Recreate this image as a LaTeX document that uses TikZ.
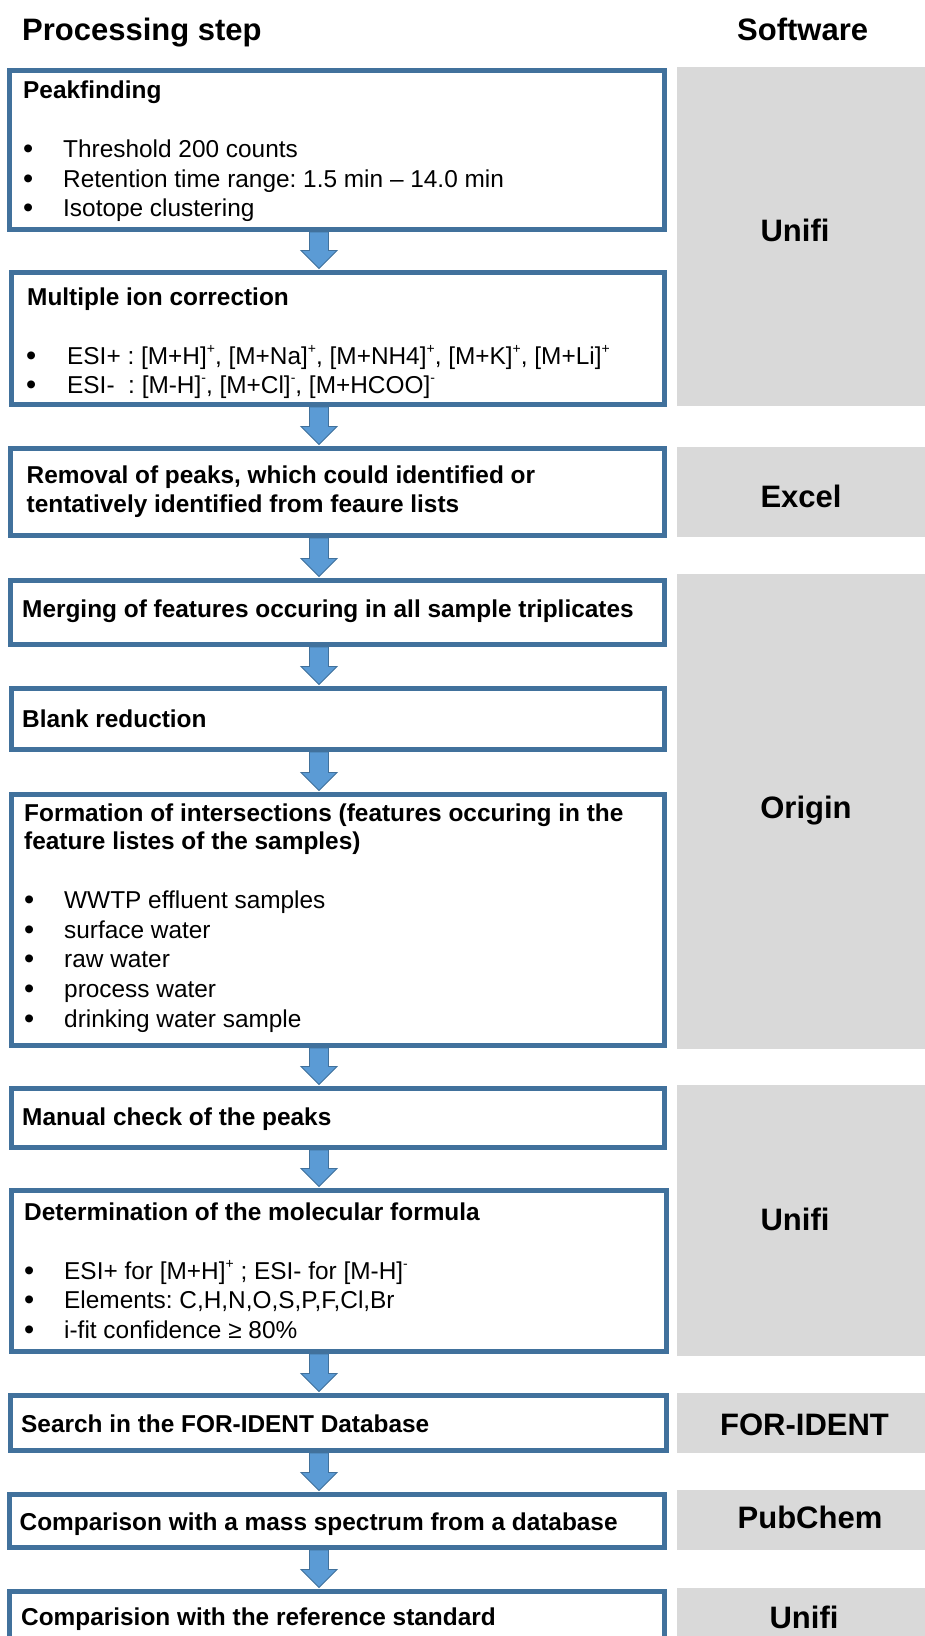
\documentclass[tikz,border=0pt]{standalone}
\usepackage{fontspec}
\setmainfont{Liberation Sans}
\usetikzlibrary{calc}
\frenchspacing
\definecolor{boxedge}{HTML}{41719C}
\definecolor{arrowfill}{HTML}{5B9BD5}
\definecolor{arrowedge}{HTML}{41719C}
\definecolor{softgray}{HTML}{D9D9D9}
\newcommand\bulglyph{\raisebox{-0.06em}{\fontsize{29}{29}\selectfont •}}
\newcommand\bul{\makebox[40pt][l]{\bulglyph}}
\newcommand\supx[1]{\raisebox{0.42em}{\fontsize{14}{14}\selectfont #1}}
\newcommand\flowarrow[2]{%
  \path[blockarrow] let \p1=(#1.south), \p2=(#2.north) in
    (309.5pt,\y1) -- (328.5pt,\y1) -- (328.5pt,{\y2+19.5pt}) -- (337pt,{\y2+19.5pt})
    -- (319pt,{\y2+1.5pt}) -- (301pt,{\y2+19.5pt}) -- (309.5pt,{\y2+19.5pt}) -- cycle;}
\tikzset{
  stepbox/.style={draw=boxedge, line width=5pt, fill=white, rectangle, inner sep=0pt},
  blockarrow/.style={draw=arrowedge, fill=arrowfill, line width=0.9pt, line join=miter},
  lbl/.style={anchor=base west, inner sep=0pt, font=\fontsize{24.4}{29.3}\selectfont},
  hd/.style={anchor=base west, inner sep=0pt, font=\fontsize{24.4}{29.3}\selectfont\bfseries},
  softlbl/.style={anchor=base, inner sep=0pt, font=\fontsize{31}{36}\selectfont\bfseries},
  coltitle/.style={anchor=base west, inner sep=0pt, font=\fontsize{31}{36}\selectfont\bfseries},
  graybox/.style={fill=softgray}
}
\begin{document}
\begin{tikzpicture}[x=1pt,y=-1pt]
\useasboundingbox (0,0) rectangle (925,1636);
\clip (0,0) rectangle (925,1636);

% column titles
\node[coltitle] (h1) at (22,40) {Processing step};
\node[coltitle] (h2) at (737,40) {Software};

% software column
\fill[graybox] (677,67) rectangle (930,406);
\fill[graybox] (677,447) rectangle (930,537);
\fill[graybox] (677,574) rectangle (930,1049);
\fill[graybox] (677,1085) rectangle (930,1356);
\fill[graybox] (677,1393) rectangle (930,1453);
\fill[graybox] (677,1490) rectangle (930,1550);
\fill[graybox] (677,1588) rectangle (930,1700);
\node[softlbl] (s1) at (795,241) {Unifi};
\node[softlbl] (s2) at (801,507) {Excel};
\node[softlbl] (s3) at (806,818) {Origin};
\node[softlbl] (s4) at (795,1230) {Unifi};
\node[softlbl] (s5) at (804.5,1435) {FOR-IDENT};
\node[softlbl] (s6) at (810,1528) {PubChem};
\node[softlbl] (s7) at (804,1628) {Unifi};

% step boxes
\node[stepbox, minimum width=655pt, minimum height=159pt] (b1) at (337,150) {};
\node[stepbox, minimum width=653pt, minimum height=132pt] (b2) at (338,338.5) {};
\node[stepbox, minimum width=654pt, minimum height=87pt] (b3) at (337.5,492) {};
\node[stepbox, minimum width=654pt, minimum height=64pt] (b4) at (337.5,612.5) {};
\node[stepbox, minimum width=653pt, minimum height=61pt] (b5) at (338,719) {};
\node[stepbox, minimum width=653pt, minimum height=251pt] (b6) at (338,920) {};
\node[stepbox, minimum width=653pt, minimum height=59pt] (b7) at (338,1118) {};
\node[stepbox, minimum width=655pt, minimum height=161pt] (b8) at (339,1271) {};
\node[stepbox, minimum width=656pt, minimum height=55pt] (b9) at (338.5,1423) {};
\node[stepbox, minimum width=655pt, minimum height=53pt] (b10) at (337,1521) {};
\node[stepbox, minimum width=655pt, minimum height=106pt] (b11) at (337,1644.5) {};

% arrows
\flowarrow{b1}{b2}
\flowarrow{b2}{b3}
\flowarrow{b3}{b4}
\flowarrow{b4}{b5}
\flowarrow{b5}{b6}
\flowarrow{b6}{b7}
\flowarrow{b7}{b8}
\flowarrow{b8}{b9}
\flowarrow{b9}{b10}
\flowarrow{b10}{b11}

% box 1
\node[hd] (t1) at (23,98) {Peakfinding};
\node[lbl] (t1a) at (23,157) {\bul Threshold 200 counts};
\node[lbl] (t1b) at (23,187) {\bul Retention time range: 1.5 min – 14.0 min};
\node[lbl] (t1c) at (23,216) {\bul Isotope clustering};
% box 2
\node[hd] (t2) at (27,305) {Multiple ion correction};
\node[lbl] (t2a) at (26,364) {\makebox[41pt][l]{\bulglyph}ESI+ : [M+H]\supx{+}, [M+Na]\supx{+}, [M+NH4]\supx{+}, [M+K]\supx{+}, [M+Li]\supx{+}};
\node[lbl] (t2b) at (26,393) {\makebox[41pt][l]{\bulglyph}ESI-~~: [M-H]\supx{-}, [M+Cl]\supx{-}, [M+HCOO]\supx{-}};
% box 3
\node[hd] (t3) at (26.5,483) {Removal of peaks, which could identified or};
\node[hd] (t3b) at (26.5,512) {tentatively identified from feaure lists};
% box 4
\node[hd] (t4) at (22,617) {Merging of features occuring in all sample triplicates};
% box 5
\node[hd] (t5) at (22,727) {Blank reduction};
% box 6
\node[hd] (t6) at (24,821) {Formation of intersections (features occuring in the};
\node[hd] (t6b) at (24,849) {feature listes of the samples)};
\node[lbl] (t6c) at (24,908) {\bul WWTP effluent samples};
\node[lbl] (t6d) at (24,938) {\bul surface water};
\node[lbl] (t6e) at (24,967) {\bul raw water};
\node[lbl] (t6f) at (24,997) {\bul process water};
\node[lbl] (t6g) at (24,1027) {\bul drinking water sample};
% box 7
\node[hd] (t7) at (22,1125) {Manual check of the peaks};
% box 8
\node[hd] (t8) at (24,1220) {Determination of the molecular formula};
\node[lbl] (t8a) at (24,1279) {\bul ESI+ for [M+H]\supx{+} ; ESI- for [M-H]\supx{-}};
\node[lbl] (t8b) at (24,1308) {\bul Elements: C,H,N,O,S,P,F,Cl,Br};
\node[lbl] (t8c) at (24,1338) {\bul i-fit confidence ≥ 80\%};
% box 9-11
\node[hd] (t9) at (21,1432) {Search in the FOR-IDENT Database};
\node[hd] (t10) at (19.5,1530) {Comparison with a mass spectrum from a database};
\node[hd] (t11) at (21,1625) {Comparision with the reference standard};
\end{tikzpicture}
\end{document}
